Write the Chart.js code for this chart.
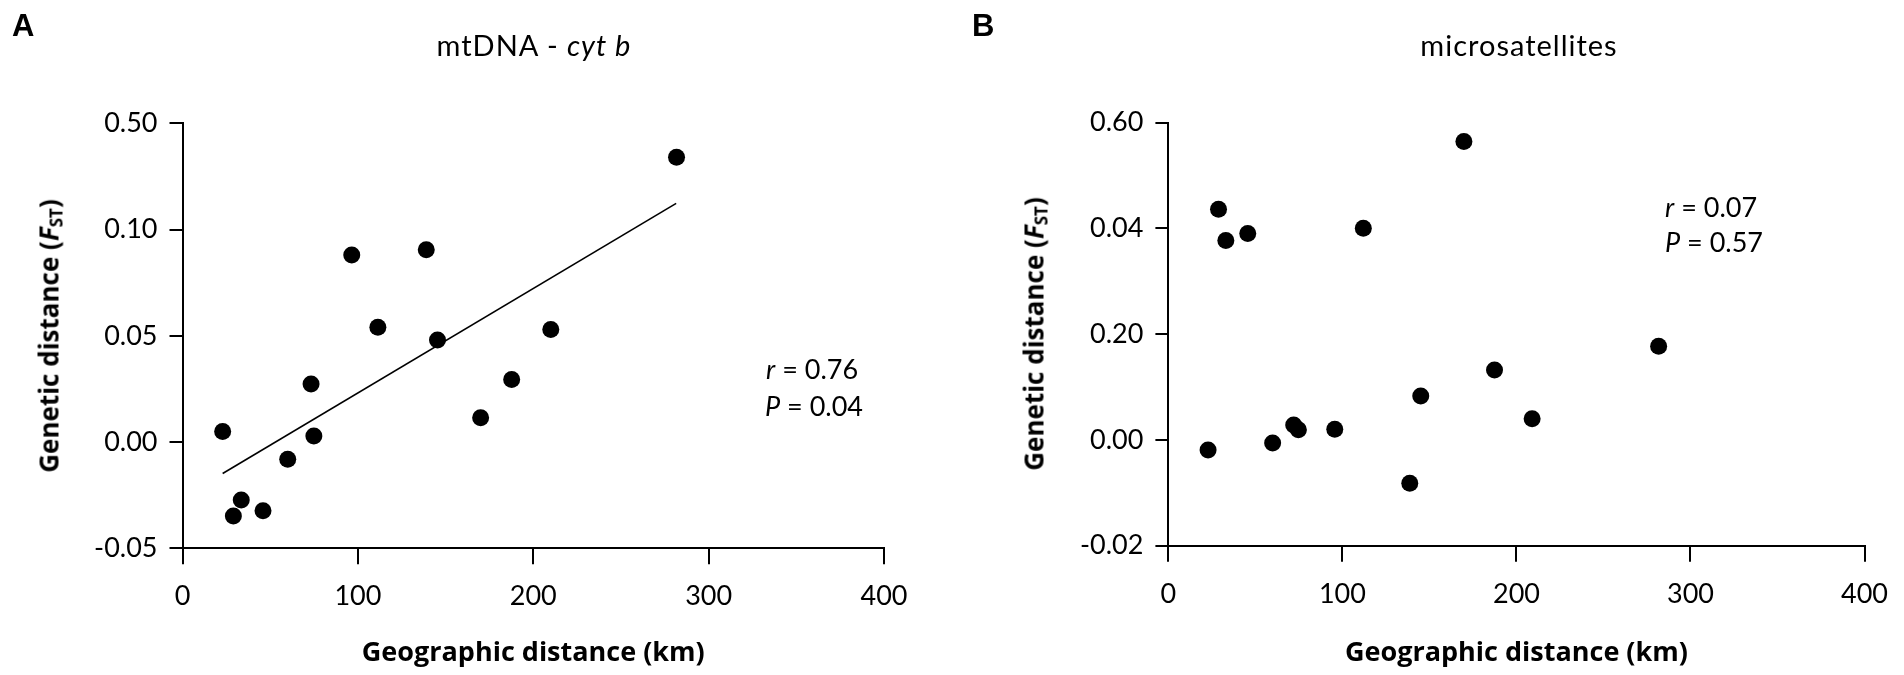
<!DOCTYPE html>
<html>
<head>
<meta charset="utf-8">
<script src="https://cdn.jsdelivr.net/npm/chart.js@4.4.1/dist/chart.umd.min.js"></script>
<style>
  html, body { margin:0; padding:0; background:#fff; }
  body { width:1904px; height:675px; position:relative; overflow:hidden; font-family: Lato, "Liberation Sans", sans-serif; color:#000; }
  .cv { position:absolute; top:0; }
  .lbl { position:absolute; white-space:nowrap; line-height:1; }
  .panel { font-family:"Liberation Sans", Arial, sans-serif; font-weight:700; font-size:31px; }
  .title { font-family:Lato, sans-serif; font-size:29px; letter-spacing:1px; transform:translateX(-50%); }
  .ytitle { font-family:"Open Sans", sans-serif; font-weight:700; font-size:26px; transform:translate(-50%,-50%) rotate(-90deg); }
  .ytitle sub { font-size:17px; vertical-align:-4px; font-style:normal; }
  .stat { font-family:Lato, sans-serif; font-size:27px; }
</style>
</head>
<body>
<canvas id="cA" class="cv" width="952" height="675" style="left:0;width:952px;height:675px"></canvas>
<canvas id="cB" class="cv" width="952" height="675" style="left:952px;width:952px;height:675px"></canvas>

<div class="lbl panel" style="left:12px;top:10px">A</div>
<div class="lbl panel" style="left:972px;top:10px">B</div>
<div class="lbl title" style="left:534px;top:30px">mtDNA - <i>cyt b</i></div>
<div class="lbl title" style="left:1519px;top:30px">microsatellites</div>
<div class="lbl ytitle" style="left:50px;top:336px">Genetic distance (<i>F</i><sub>ST</sub>)</div>
<div class="lbl ytitle" style="left:1035px;top:334px">Genetic distance (<i>F</i><sub>ST</sub>)</div>
<div class="lbl stat" style="left:766px;top:355px"><i>r</i> = 0.76</div>
<div class="lbl stat" style="left:765px;top:392px"><i>P</i> = 0.04</div>
<div class="lbl stat" style="left:1665px;top:193px"><i>r</i> = 0.07</div>
<div class="lbl stat" style="left:1665px;top:228px"><i>P</i> = 0.57</div>

<script>
// ---- Data ----
const xTickLabels = ["0", "100", "200", "300", "400"];

// Panel A: mtDNA - cyt b
const distA = [22.9, 29.0, 33.5, 45.9, 60.0, 73.3, 74.9, 96.5, 111.4, 139.0, 145.4, 170.0, 187.7, 210.0, 281.7];
const fstA  = [0.005, -0.0348, -0.0273, -0.0323, -0.0081, 0.0273, 0.0028, 0.088, 0.054, 0.0905, 0.048, 0.0114, 0.0294, 0.053, 0.134];
const yTickLabelsA = ["-0.05", "0.00", "0.05", "0.10", "0.50"];
const fitXA = [22.9, 281.5];
const fitYA = [-0.0148, 0.1123];

// Panel B: microsatellites
const distB = [22.8, 28.8, 33.0, 45.6, 59.9, 72.0, 74.7, 95.6, 112.0, 138.7, 145.0, 169.8, 187.4, 209.0, 281.7];
const fstB  = [-0.0019, 0.0436, 0.0377, 0.039, -0.0006, 0.0028, 0.0019, 0.002, 0.040, -0.0082, 0.0083, 0.0564, 0.0132, 0.004, 0.0177];
const yTickLabelsB = ["-0.02", "0.00", "0.20", "0.04", "0.60"];

// ---- Build charts ----
function pts(xs, ys) { return xs.map((x, i) => ({ x: x, y: ys[i] })); }

function makeChart(id, opts) {
  const datasets = [{
    type: 'scatter',
    data: pts(opts.xs, opts.ys),
    pointRadius: 8.5,
    pointHoverRadius: 8.5,
    pointBackgroundColor: '#000',
    pointBorderWidth: 0,
    order: 1
  }];
  if (opts.fitX) {
    datasets.push({
      type: 'scatter',
      data: pts(opts.fitX, opts.fitY),
      showLine: true,
      borderColor: '#000',
      borderWidth: 1.6,
      pointRadius: 0,
      fill: false,
      order: 2
    });
  }
  return new Chart(document.getElementById(id), {
    type: 'scatter',
    data: { datasets: datasets },
    options: {
      responsive: false,
      animation: false,
      devicePixelRatio: 1,
      layout: { padding: { left: 0, right: opts.padRight, top: opts.top, bottom: 0 } },
      plugins: { legend: { display: false }, tooltip: { enabled: false } },
      scales: {
        x: {
          type: 'linear', min: 0, max: 400,
          afterFit: (s) => { s.height = 675 - opts.bottom; },
          ticks: {
            stepSize: 100, padding: 16, color: '#000',
            font: { family: 'Lato', size: 27 },
            callback: (v, i) => xTickLabels[i]
          },
          grid: { display: true, drawOnChartArea: false, drawTicks: true, tickLength: 16, color: '#000', lineWidth: 2 },
          border: { display: true, color: '#000', width: 2 },
          title: {
            display: true, text: 'Geographic distance (km)', color: '#000',
            font: { family: 'Open Sans', size: 27, weight: 'bold' },
            padding: { top: 0, bottom: 5 }
          }
        },
        y: {
          type: 'linear', min: opts.ymin, max: opts.ymax,
          afterFit: (s) => { s.width = opts.left; },
          ticks: {
            stepSize: opts.step, padding: 12, color: '#000',
            font: { family: 'Lato', size: 27 },
            callback: (v, i) => opts.yLabels[i]
          },
          grid: { display: true, drawOnChartArea: false, drawTicks: true, tickLength: 13, color: '#000', lineWidth: 2 },
          border: { display: true, color: '#000', width: 2 }
        }
      }
    }
  });
}

makeChart('cA', {
  xs: distA, ys: fstA, fitX: fitXA, fitY: fitYA,
  yLabels: yTickLabelsA, ymin: -0.05, ymax: 0.15, step: 0.05,
  left: 182.5, padRight: 952 - 884, top: 123.3, bottom: 548.3
});
makeChart('cB', {
  xs: distB, ys: fstB,
  yLabels: yTickLabelsB, ymin: -0.02, ymax: 0.06, step: 0.02,
  left: 1168.4 - 952, padRight: 1904 - 1870, top: 122.5, bottom: 545.7
});
</script>
</body>
</html>
